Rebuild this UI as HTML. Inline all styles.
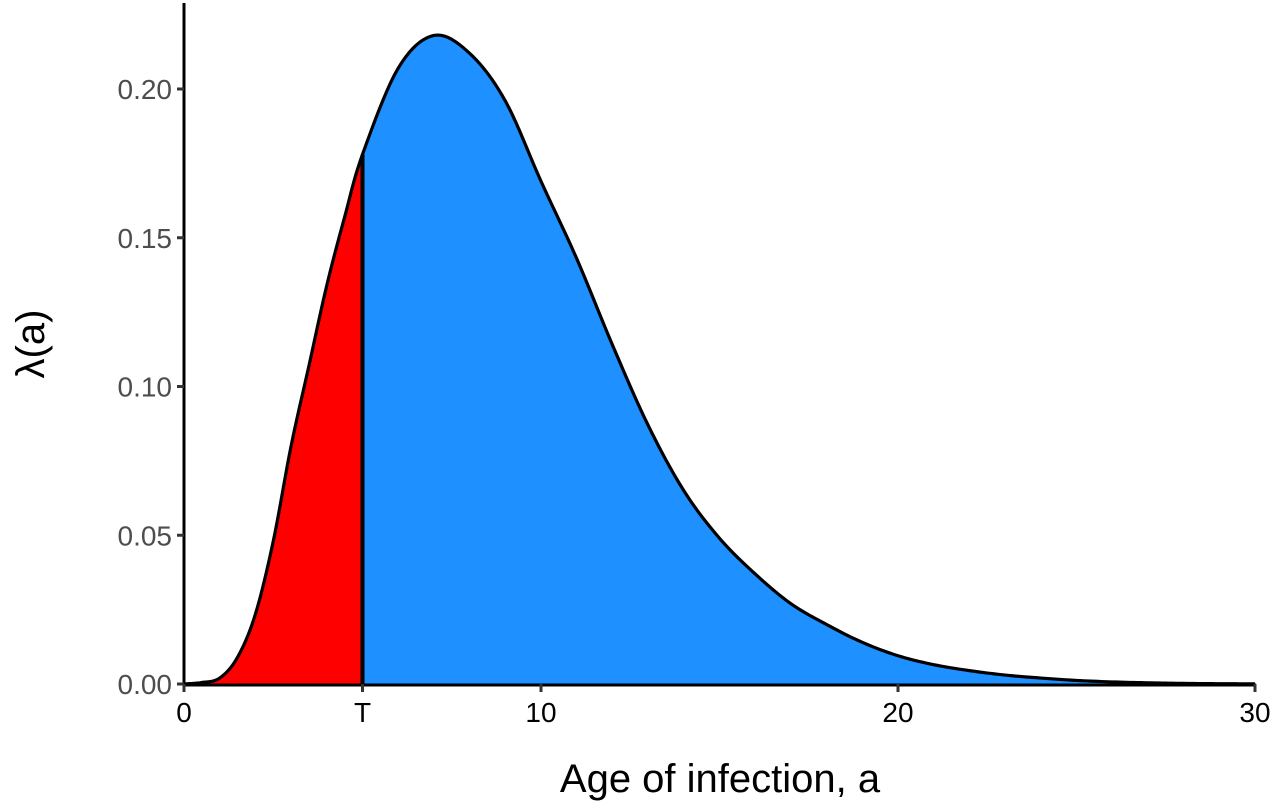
<!DOCTYPE html>
<html><head><meta charset="utf-8"><style>
html,body{margin:0;padding:0;background:#fff;}
svg{display:block;font-family:"Liberation Sans",Arial,sans-serif;}
</style></head><body>
<svg id="chart" width="1280" height="812" viewBox="0 0 1280 812"></svg>
<script>
const ageValues = [0,0.5,1,1.5,2,2.5,3,3.5,4,4.5,5,6,7,8,9,10,11,12,13,14,15,16,17,18,19,20,21,22,23,24,25,26,27,28,29,30];
const lambdaValues = [0,0.0005,0.002,0.009,0.0235,0.048,0.08,0.107,0.134,0.157,0.178,0.207,0.218,0.212,0.196,0.169,0.143,0.114,0.087,0.065,0.049,0.037,0.027,0.020,0.014,0.0095,0.0065,0.0045,0.003,0.002,0.0012,0.0007,0.0004,0.0002,0.0001,0.00005];
const thresholdT = 5;
const yTicks = [0,0.05,0.10,0.15,0.20];
const yTickLabels = ["0.00","0.05","0.10","0.15","0.20"];
const xTicks = [0,5,10,20,30];
const xTickLabels = ["0","T","10","20","30"];

const NS="http://www.w3.org/2000/svg";
const svg=document.getElementById('chart');
const X0=184,X1=1255,Y0=684,YTOP=3;
const xs=a=>X0+(a/30)*(X1-X0);
const ys=v=>Y0-v*(595/0.20);
function mk(tag,attrs,parent){const e=document.createElementNS(NS,tag);for(const k in attrs)e.setAttribute(k,attrs[k]);(parent||svg).appendChild(e);return e;}

// Catmull-Rom dense sampling
function sample(){
  const pts=[];
  for(let i=0;i<ageValues.length-1;i++){
    const p0=i>0?i-1:i,p3=i+2<ageValues.length?i+2:i+1;
    const xa=[ageValues[p0],ageValues[i],ageValues[i+1],ageValues[p3]];
    const ya=[lambdaValues[p0],lambdaValues[i],lambdaValues[i+1],lambdaValues[p3]];
    for(let s=0;s<10;s++){
      const t=s/10,t2=t*t,t3=t2*t;
      const f=(v)=>0.5*((2*v[1])+(-v[0]+v[2])*t+(2*v[0]-5*v[1]+4*v[2]-v[3])*t2+(-v[0]+3*v[1]-3*v[2]+v[3])*t3);
      pts.push([f(xa),Math.max(0,f(ya))]);
    }
  }
  pts.push([ageValues[ageValues.length-1],lambdaValues[lambdaValues.length-1]]);
  return pts;
}
const pts=sample();
const left=pts.filter(p=>p[0]<=thresholdT);
const right=pts.filter(p=>p[0]>=thresholdT);
function areaPath(arr){
  let d='M'+xs(arr[0][0])+','+ys(0);
  arr.forEach(p=>{d+=' L'+xs(p[0]).toFixed(2)+','+ys(p[1]).toFixed(2);});
  d+=' L'+xs(arr[arr.length-1][0])+','+ys(0)+' Z';return d;
}
const ra=mk('path',{d:areaPath(left),fill:'#ff0000'});


const ba=mk('path',{d:areaPath(right),fill:'#1e90ff'});


let ld='';pts.forEach((p,i)=>{ld+=(i?' L':'M')+xs(p[0]).toFixed(2)+','+ys(p[1]).toFixed(2);});
const line=mk('path',{d:ld,fill:'none',stroke:'#000','stroke-width':3.2,'stroke-linejoin':'round'});


let tv=0;for(let i=0;i<ageValues.length;i++){if(ageValues[i]===thresholdT)tv=lambdaValues[i];}
const vl=mk('line',{x1:xs(thresholdT),x2:xs(thresholdT),y1:ys(tv),y2:Y0,stroke:'#000','stroke-width':4});



// axes
const ya=mk('line',{x1:X0,x2:X0,y1:YTOP,y2:Y0+1,stroke:'#000','stroke-width':3});


const xa=mk('line',{x1:X0-1,x2:X1+1,y1:Y0+1,y2:Y0+1,stroke:'#000','stroke-width':3});


yTicks.forEach((v,i)=>{
  const t=mk('line',{x1:X0-7,x2:X0,y1:ys(v),y2:ys(v),stroke:'#333','stroke-width':3});
  
  
  const l=mk('text',{x:X0-12,y:ys(v)+10,'text-anchor':'end','font-size':28,fill:'#4d4d4d'});
  l.textContent=yTickLabels[i];
  
  
});
xTicks.forEach((v,i)=>{
  const t=mk('line',{x1:xs(v),x2:xs(v),y1:Y0,y2:Y0+8,stroke:'#333','stroke-width':3});
  
  
  const l=mk('text',{x:xs(v),y:Y0+38,'text-anchor':'middle','font-size':28,fill:'#000'});
  l.textContent=xTickLabels[i];
  
  
});
const xt=mk('text',{x:720,y:792,'text-anchor':'middle','font-size':40,fill:'#000','xml:space':'preserve'});
xt.textContent='Age of infection,   a';


const yt=mk('text',{x:0,y:0,'text-anchor':'middle','font-size':40,fill:'#000',transform:'translate(44,344) rotate(-90)'});
yt.textContent='λ(a)';


</script>
</body></html>
